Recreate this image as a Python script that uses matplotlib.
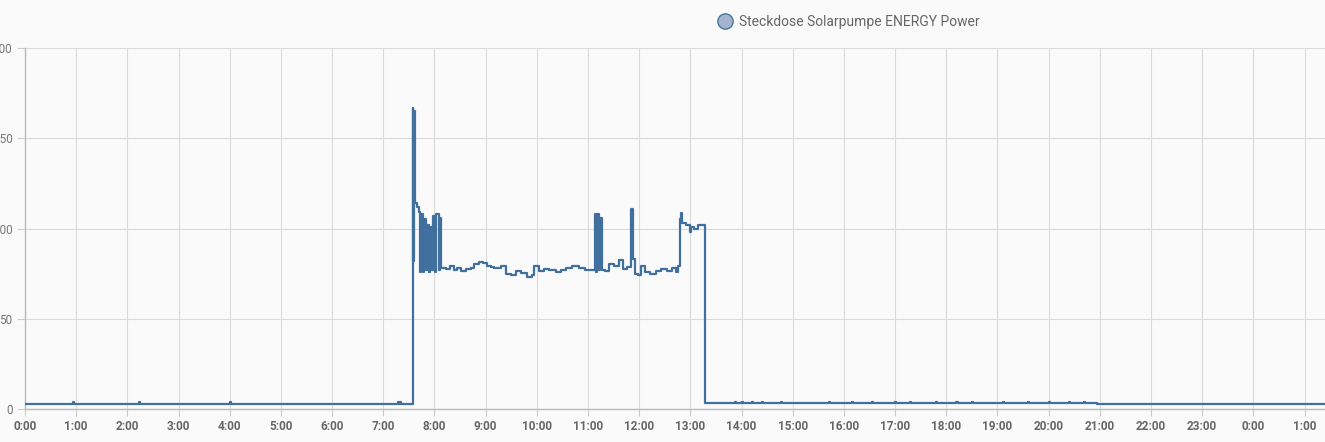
import matplotlib
matplotlib.use('Agg')
import matplotlib.pyplot as plt
from matplotlib.lines import Line2D

plt.rcParams['font.family'] = ['Roboto', 'DejaVu Sans']

# step points: hour of day -> watts (held until next point)
hours = [0.00, 0.93, 0.95, 2.23, 2.25, 4.00, 4.02, 7.28, 7.30, 7.33, 7.35,
         7.575, 7.59, 7.605, 7.62, 7.66, 7.70, 7.72, 7.74, 7.78, 7.80, 7.84,
         7.86, 7.90, 7.92, 7.96, 7.98, 8.02, 8.04, 8.08, 8.10, 8.13,
         8.22, 8.30, 8.38, 8.45, 8.52, 8.62, 8.72, 8.78, 8.88, 8.95, 9.03,
         9.10, 9.17, 9.30, 9.40, 9.50, 9.60, 9.70, 9.80, 9.90, 9.95, 10.05,
         10.15, 10.24, 10.38, 10.48, 10.57, 10.69, 10.82, 10.95,
         11.13, 11.16, 11.18, 11.21, 11.24, 11.28, 11.34, 11.41, 11.50,
         11.60, 11.68, 11.76, 11.85, 11.87, 11.92, 11.98, 12.03, 12.12,
         12.22, 12.32, 12.42, 12.55, 12.65, 12.72, 12.76,
         12.79, 12.82, 12.84, 12.92, 13.00, 13.02, 13.08, 13.15, 13.28,
         13.88, 13.90, 14.00, 14.02, 14.20, 14.22, 14.40, 14.42, 14.78, 14.80,
         15.70, 15.72, 16.15, 16.17, 16.54, 16.56, 17.00, 17.02, 17.30, 17.32,
         17.80, 17.82, 18.20, 18.22, 18.50, 18.52, 19.10, 19.12, 19.60, 19.62,
         20.00, 20.02, 20.40, 20.42, 20.70, 20.72, 20.95, 25.40]
watts = [2.8, 3.8, 2.8, 3.8, 2.8, 3.8, 2.8, 3.8, 2.8, 3.8, 2.8,
         167, 82, 165, 114, 112, 109, 76, 108, 76, 105, 77,
         102, 76, 101, 77, 107, 76, 108, 77, 106, 78,
         77.5, 79, 77, 78, 76.5, 77.5, 78, 80.5, 81.5, 81, 79,
         78.5, 78, 79, 75, 74.5, 76.5, 75.5, 73, 74.5, 79.5, 76.5,
         77.5, 77, 76, 77, 78, 79.5, 78, 77,
         108, 76, 108, 77, 106, 77, 76.5, 80.5, 79.5,
         82.5, 77.5, 78.5, 111, 83, 75, 74, 79.5, 76,
         75, 76.5, 77.5, 76.5, 78, 76, 79,
         105.5, 108.8, 103, 102, 98, 101, 100, 102, 3.2,
         4.0, 3.2, 4.0, 3.2, 4.0, 3.2, 4.0, 3.2, 4.0, 3.2,
         4.0, 3.2, 4.0, 3.2, 4.0, 3.2, 4.0, 3.2, 4.0, 3.2,
         4.0, 3.2, 4.0, 3.2, 4.0, 3.2, 4.0, 3.2, 4.0, 3.2,
         4.0, 3.2, 4.0, 3.2, 4.0, 3.2, 2.8, 2.8]

tick_hours = list(range(26))
tick_labels = [f'{h % 24}:00' for h in tick_hours]
y_ticks = [0, 50, 100, 150, 200]
series_name = 'Steckdose Solarpumpe ENERGY Power'

BG = '#fafafa'
LINE = '#41709f'
GRID = '#dadada'

fig = plt.figure(figsize=(13.25, 4.42), dpi=100, facecolor=BG)
ax = fig.add_axes([25 / 1325, 33 / 442, 1300 / 1325, 361 / 442], facecolor=BG)

ax.step(hours, watts, where='post', color=LINE, lw=1.6, zorder=3)

ax.set_xlim(0, 25.4)
ax.set_ylim(0, 200)
ax.set_xticks(tick_hours)
ax.set_xticklabels(tick_labels, fontsize=8.5, fontweight='bold', color='#666666')
ax.set_yticks(y_ticks)
ax.set_yticklabels([str(v) for v in y_ticks], fontsize=8.5, color='#777777')
ax.grid(True, color=GRID, lw=0.8)
ax.set_axisbelow(True)

for side in ['top', 'right']:
    ax.spines[side].set_visible(False)
for side in ['left', 'bottom']:
    ax.spines[side].set_color('#bbbbbb')
    ax.spines[side].set_linewidth(1.0)
ax.tick_params(axis='x', length=5, color='#cccccc', pad=3)
ax.tick_params(axis='y', length=6, color='#cccccc', pad=3)

handle = Line2D([], [], marker='o', linestyle='none', markersize=11,
                markerfacecolor='#a3b5cc', markeredgecolor='#4b74a0', markeredgewidth=1.0)
fig.legend([handle], [series_name], loc='center left',
           bbox_to_anchor=(717 / 1325, 1 - 22 / 442), frameon=False,
           handlelength=1.2, handletextpad=0.4, borderpad=0, borderaxespad=0,
           prop={'size': 10}, labelcolor='#666666')

fig.savefig('out.png', dpi=100, facecolor=BG)
